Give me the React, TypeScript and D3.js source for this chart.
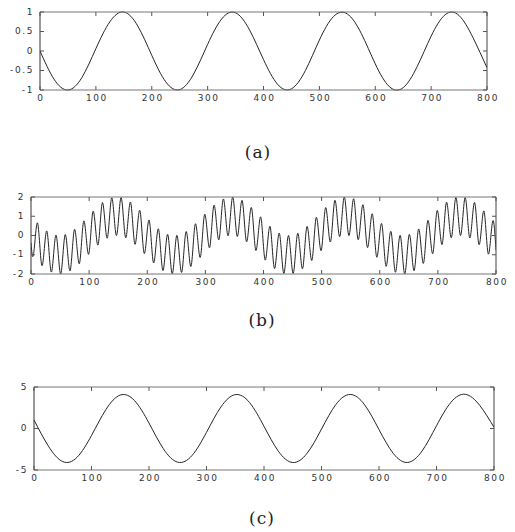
import * as d3 from "d3";

// shared x axis (sample index)
const xTicks = [0, 100, 200, 300, 400, 500, 600, 700, 800];
const gridX = [
  0, 25, 50, 75, 100, 125, 150, 175, 200, 225, 250, 275, 300, 325, 350, 375, 400,
  425, 450, 475, 500, 525, 550, 575, 600, 625, 650, 675, 700, 725, 750, 775, 800,
];

// (a) slow wave, read every 25 samples
const aY = [
  0, -0.72, -1.0, -0.68, 0.06, 0.75, 1.0, 0.64, -0.11, -0.79, -0.99, -0.59, 0.17,
  0.82, 0.98, 0.54, -0.22, -0.85, -0.97, -0.5, 0.28, 0.88, 0.95, 0.45, -0.33,
  -0.91, -0.94, -0.4, 0.38, 0.93, 0.91, 0.34, -0.43,
];
const aTicks = [-1, -0.5, 0, 0.5, 1];
const aLabels = ["-1", "-0.5", "0", "0.5", "1"];

// (b) slow wave + fast ripple, read at each ripple peak / trough
const bX = [
  0, 3, 11, 19, 27, 35, 43, 51, 59, 67, 75, 83, 91, 99, 107, 115, 123, 131, 139,
  147, 155, 163, 171, 179, 187, 195, 203, 211, 219, 227, 235, 243, 251, 259, 267,
  275, 283, 291, 299, 307, 315, 323, 331, 339, 347, 355, 363, 371, 379, 387, 395,
  403, 411, 419, 427, 435, 443, 451, 459, 467, 475, 483, 491, 499, 507, 515, 523,
  531, 539, 547, 555, 563, 571, 579, 587, 595, 603, 611, 619, 627, 635, 643, 651,
  659, 667, 675, 683, 691, 699, 707, 715, 723, 731, 739, 747, 755, 763, 771, 779,
  787, 795, 800,
];
const bY = [
  -0.38, -1.1, 0.66, -1.57, 0.24, -1.9, 0.02, -2.0, 0.05, -1.84, 0.32, -1.47, 0.76,
  -0.98, 1.27, -0.5, 1.71, -0.14, 1.96, 0.0, 1.97, -0.12, 1.74, -0.46, 1.31, -0.94,
  0.81, -1.43, 0.35, -1.82, 0.06, -1.99, 0.01, -1.92, 0.21, -1.61, 0.61, -1.14, 1.11,
  -0.64, 1.58, -0.23, 1.9, -0.02, 2.0, -0.05, 1.83, -0.33, 1.46, -0.78, 0.97, -1.28,
  0.48, -1.72, 0.13, -1.97, 0.0, -1.97, 0.12, -1.73, 0.47, -1.3, 0.95, -0.79, 1.45,
  -0.34, 1.83, -0.06, 2.0, -0.01, 1.91, -0.22, 1.6, -0.63, 1.13, -1.13, 0.63, -1.6,
  0.22, -1.91, 0.01, -2.0, 0.06, -1.83, 0.34, -1.45, 0.79, -0.95, 1.3, -0.47, 1.73,
  -0.12, 1.97, 0.0, 1.97, -0.13, 1.72, -0.48, 1.28, -0.97, 0.78, -0.76,
];
const bTicks = [-2, -1, 0, 1, 2];
const bLabels = ["-2", "-1", "0", "1", "2"];

// (c) filtered output, read every 25 samples
const cY = [
  1.03, -2.12, -3.99, -3.46, -0.84, 2.28, 4.03, 3.35, 0.65, -2.44, -4.06, -3.24,
  -0.46, 2.59, 4.08, 3.12, 0.26, -2.74, -4.1, -2.98, -0.07, 2.89, 4.1, 2.85, -0.13,
  -3.02, -4.09, -2.7, 0.33, 3.15, 4.12, 2.8, 0.15,
];
const cTicks = [-5, 0, 5];
const cLabels = ["-5", "0", "5"];

const TICK = 4;
const tickFont = "'DejaVu Sans', sans-serif";
const capFont = "'DejaVu Serif', serif";

type Box = { left: number; right: number; top: number; bottom: number };

const Panel = ({
  id,
  box,
  yDomain,
  yTicks,
  yLabels,
  xs,
  ys,
  curve,
}: {
  id: string;
  box: Box;
  yDomain: [number, number];
  yTicks: number[];
  yLabels: string[];
  xs: number[];
  ys: number[];
  curve: d3.CurveFactory;
}) => {
  const x = d3.scaleLinear().domain([0, 800]).range([box.left, box.right]);
  const y = d3.scaleLinear().domain(yDomain).range([box.bottom, box.top]);
  const path = d3
    .line<number>()
    .x((_, i) => x(xs[i]))
    .y((d) => y(d))
    .curve(curve)(ys);

  return (
    <g>
      <clipPath id={`clip-${id}`}>
        <rect
          x={box.left}
          y={box.top - 1}
          width={box.right - box.left}
          height={box.bottom - box.top + 2}
        />
      </clipPath>
      <path
        d={path || ""}
        fill="none"
        stroke="#252525"
        strokeWidth={1}
        clipPath={`url(#clip-${id})`}
      />
      {/* frame */}
      <line x1={box.left} x2={box.right} y1={box.top} y2={box.top} stroke="#777" />
      <line x1={box.left} x2={box.right} y1={box.bottom} y2={box.bottom} stroke="#777" />
      <line x1={box.left} x2={box.left} y1={box.top} y2={box.bottom} stroke="#333" />
      <line x1={box.right} x2={box.right} y1={box.top} y2={box.bottom} stroke="#444" />
      {xTicks.map((t) => (
        <g key={`x${t}`}>
          <line x1={x(t)} x2={x(t)} y1={box.bottom} y2={box.bottom - TICK} stroke="#555" />
          <line x1={x(t)} x2={x(t)} y1={box.top} y2={box.top + TICK} stroke="#555" />
          <text
            x={x(t) + 1}
            y={box.bottom + 10.5}
            textAnchor="middle"
            fontFamily={tickFont}
            fontSize={9}
            letterSpacing={1.6}
            fill="#333"
          >
            {t}
          </text>
        </g>
      ))}
      {yTicks.map((t, i) => (
        <g key={`y${t}`}>
          <line x1={box.left} x2={box.left + TICK} y1={y(t)} y2={y(t)} stroke="#555" />
          <line x1={box.right} x2={box.right - TICK} y1={y(t)} y2={y(t)} stroke="#555" />
          <text
            x={box.left - 6}
            y={y(t)}
            textAnchor="end"
            dominantBaseline="middle"
            fontFamily={tickFont}
            fontSize={9}
            letterSpacing={1.6}
            fill="#333"
          >
            {yLabels[i]}
          </text>
        </g>
      ))}
    </g>
  );
};

const Caption = ({ x, y, label }: { x: number; y: number; label: string }) => (
  <text
    x={x}
    y={y}
    textAnchor="middle"
    dominantBaseline="middle"
    fontFamily={capFont}
    fontSize={17}
    letterSpacing={1}
    fill="#222"
  >
    {label}
  </text>
);

export default function App() {
  return (
    <svg
      width={515}
      height={532}
      style={{ position: "absolute", left: 0, top: 0, background: "#fff" }}
    >
      <Panel
        id="a"
        box={{ left: 40, right: 487, top: 12, bottom: 90 }}
        yDomain={[-1, 1]}
        yTicks={aTicks}
        yLabels={aLabels}
        xs={gridX}
        ys={aY}
        curve={d3.curveNatural}
      />
      <Caption x={258} y={153} label="(a)" />

      <Panel
        id="b"
        box={{ left: 31, right: 496, top: 197, bottom: 274 }}
        yDomain={[-2, 2]}
        yTicks={bTicks}
        yLabels={bLabels}
        xs={bX}
        ys={bY}
        curve={d3.curveMonotoneX}
      />
      <Caption x={262} y={321} label="(b)" />

      <Panel
        id="c"
        box={{ left: 34, right: 494, top: 387, bottom: 470 }}
        yDomain={[-5, 5]}
        yTicks={cTicks}
        yLabels={cLabels}
        xs={gridX}
        ys={cY}
        curve={d3.curveNatural}
      />
      <Caption x={262} y={519} label="(c)" />
    </svg>
  );
}
